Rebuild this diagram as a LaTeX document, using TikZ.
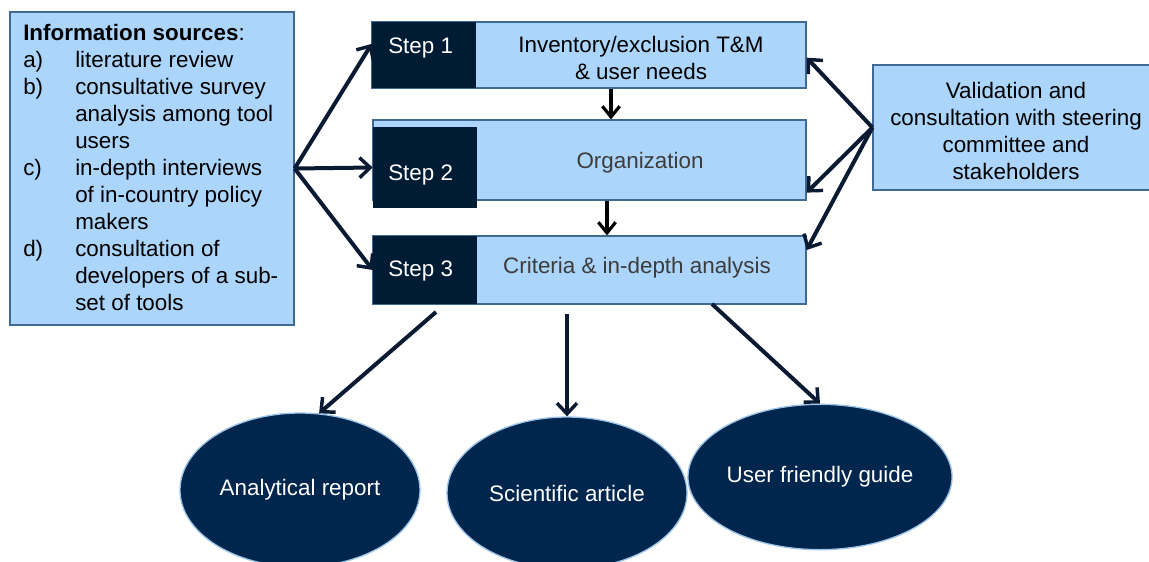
\documentclass[tikz,border=0pt]{standalone}
\usepackage{fontspec}
\setmainfont{Liberation Sans}
\usetikzlibrary{arrows.meta,shapes.geometric,fit,calc}
\definecolor{boxblue}{RGB}{171,213,251}
\definecolor{boxedge}{RGB}{65,105,150}
\definecolor{stepnavy}{RGB}{0,27,52}
\definecolor{ovalnavy}{RGB}{0,38,77}
\definecolor{ovaledge}{RGB}{157,195,230}
\definecolor{arrownavy}{RGB}{10,26,50}
\definecolor{greytext}{RGB}{60,60,60}
\begin{document}
\begin{tikzpicture}[x=0.75pt,y=-0.75pt,
  font=\fontsize{16.8pt}{20.25pt}\selectfont,
  lbox/.style={draw=boxedge,line width=0.9pt,fill=boxblue,inner sep=0pt},
  dbox/.style={fill=stepnavy,inner sep=0pt},
  steplabel/.style={text=white,inner sep=0pt,anchor=base west},
  oval/.style={ellipse,fill=ovalnavy,draw=ovaledge,line width=1pt,inner sep=0pt,
    text=white,minimum width=180pt},
  feed/.style={draw=arrownavy,line width=3pt,
    -{Straight Barb[length=8pt,width=15pt,line width=2.6pt]}},
  flow/.style={draw=black,line width=2.4pt,
    -{Straight Barb[length=8pt,width=13pt,line width=2.4pt]}}]
\clip (0,0) rectangle (1149,561);

% information sources
\node[lbox,fit={(10,12) (294,325)}] (info) {};
\node[anchor=base west,inner sep=0pt] (infotext) at (23,40) {%
  \begin{tabular}[t]{@{}p{39pt}@{}l@{}}
  \multicolumn{2}{@{}l@{}}{\textbf{Information sources}:}\\
  a) & literature review\\
  b) & consultative survey\\
     & analysis among tool\\
     & users\\
  c) & in-depth interviews\\
     & of in-country policy\\
     & makers\\
  d) & consultation of\\
     & developers of a sub-\\
     & set of tools
  \end{tabular}};

% the three steps
\node[lbox,fit={(372,22) (806,88)}] (s1) {};
\node[dbox,fit={(372,22) (476,88)}] (s1d) {};
\node[steplabel] (s1t) at (388,53) {Step 1};
\node[align=center,inner sep=0pt] (s1x) at (641,58) {Inventory/exclusion T\&M\\ \& user needs};

\node[lbox,fit={(373,120) (806,200)}] (s2) {};
\node[dbox,fit={(373,127) (477,208)}] (s2d) {};
\node[steplabel] (s2t) at (388,180) {Step 2};
\node[text=greytext,inner sep=0pt] (s2x) at (640,163) {Organization};

\node[lbox,fit={(373,236) (806,304)}] (s3) {};
\node[dbox,fit={(373,236) (477,304)}] (s3d) {};
\node[steplabel] (s3t) at (388,276) {Step 3};
\node[text=greytext,inner sep=0pt] (s3x) at (637,268) {Criteria \& in-depth analysis};

% validation
\node[lbox,fit={(873,65) (1162,190)}] (val) {};
\node[align=center,inner sep=0pt] (valtext) at (1016,131)
  {Validation and\\ consultation with steering\\ committee and\\ stakeholders};

% outputs
\node[oval,minimum height=115.5pt] (rep) at (300,490) {Analytical report};
\node[oval,minimum height=114pt] (sci) at (567,493) {Scientific article};
\node[oval,minimum height=109pt] (gde) at (820,477) {User friendly guide};

% connectors
\draw[feed] (info.east) -- (s1d.168);
\draw[feed] (info.east) -- (s2d.west);
\draw[feed] (info.east) -- (s3d.west);

\draw[feed] (val.west) -- ([yshift=-2pt]s1.east);
\draw[feed] (val.west) -- ([yshift=6pt]s2.south east);
\draw[feed] (val.west) -- ([yshift=15pt]s3.east);

\coordinate (c12) at (611,0);
\coordinate (c23) at (607,0);
\draw[flow] (s1.south -| c12) -- (s2.north -| c12);
\draw[flow] (s2.south -| c23) -- (s3.north -| c23);

\coordinate (o1) at (436,312);
\coordinate (o2) at (567,314);
\coordinate (o3) at (712,304);
\draw[feed] (o1) -- (rep.76);
\draw[feed] (o2) -- (sci.north);
\draw[feed] (o3) -- (gde.north);
\end{tikzpicture}
\end{document}
